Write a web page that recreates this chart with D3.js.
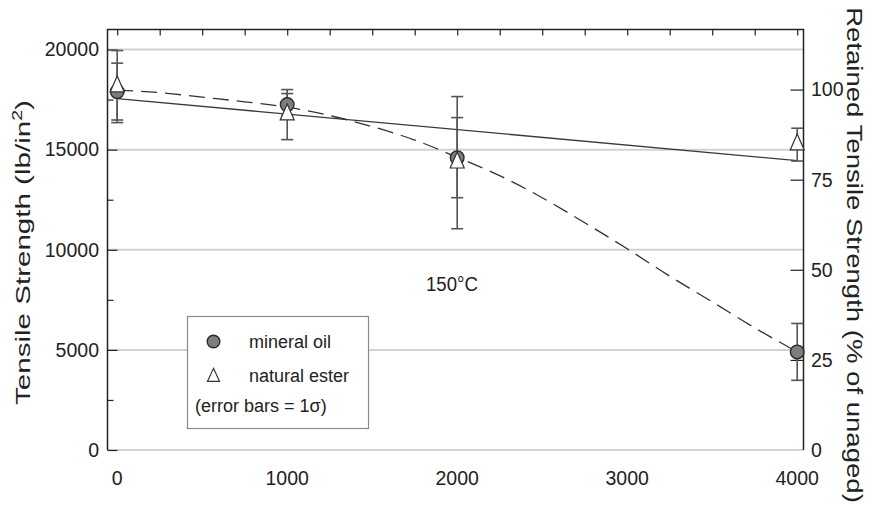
<!DOCTYPE html>
<html>
<head>
<meta charset="utf-8">
<script src="https://cdn.jsdelivr.net/npm/d3@7"></script>
<style>
  body { margin: 0; background: #fff; }
  svg { display: block; font-family: "Liberation Sans", Arial, sans-serif; }
</style>
</head>
<body>
<svg id="chart" width="869" height="510"></svg>
<script>
// Aging time (h) and tensile strength (lb/in^2) at 150 °C
const agingHours = [0, 1000, 2000, 4000];
const mineralOil = [17900, 17250, 14600, 4900];
const mineralOilSigma = [1420, 550, 2000, 1420];
const naturalEster = [18150, 16750, 14350, 15250];
const naturalEsterSigma = [1800, 1250, 3300, 820];

// Straight-line fit for natural ester
const esterFitHours = [0, 4000];
const esterFit = [17550, 14450];

// Trend curve for mineral oil
const mineralTrendHours = [0, 250, 500, 750, 1000, 1250, 1500, 1750, 2000, 2250, 2500, 2750, 3000, 3250, 3500, 3750, 4000];
const mineralTrend = [17970, 17850, 17620, 17390, 17120, 16700, 16150, 15480, 14620, 13700, 12600, 11350, 10050, 8680, 7400, 6100, 4900];

const xTickValues = [0, 1000, 2000, 3000, 4000];
const yTickValues = [0, 5000, 10000, 15000, 20000];
const retainedTickValues = [0, 25, 50, 75, 100];
const unagedStrength = 18000; // 100 % reference

const svg = d3.select("#chart");
const frame = { left: 107.5, right: 803.5, top: 29.5, bottom: 450 };

const x = d3.scaleLinear().domain([-57, 4037]).range([frame.left, frame.right]);
const y = d3.scaleLinear().domain([0, 21000]).range([frame.bottom, frame.top]);
const yRetained = d3.scaleLinear()
  .domain([0, 21000 / unagedStrength * 100])
  .range([frame.bottom, frame.top]);

const ink = "#222";

// horizontal gridlines (the 0 line doubles as the bottom edge)
svg.append("g").selectAll("line").data(yTickValues).join("line")
  .attr("x1", frame.left).attr("x2", frame.right)
  .attr("y1", d => y(d)).attr("y2", d => y(d))
  .attr("stroke", "#d2d2d2").attr("stroke-width", 2);

// left axis with inward ticks
const leftAxis = svg.append("g").attr("transform", `translate(${frame.left},0)`)
  .call(d3.axisRight(y).tickValues(d3.range(0, 21000, 2500)).tickSize(0).tickFormat(""));
leftAxis.select(".domain").remove();
leftAxis.selectAll(".tick line")
  .attr("x2", d => d % 5000 === 0 ? 10 : 6)
  .attr("stroke", ink).attr("stroke-width", 1.2);

svg.append("g").selectAll("text").data(yTickValues).join("text")
  .attr("x", 99).attr("y", d => y(d)).attr("dy", "0.35em")
  .attr("text-anchor", "end").attr("font-size", 19.5).attr("fill", ink)
  .text(d => d);

// top axis with inward ticks
const topAxis = svg.append("g").attr("transform", `translate(0,${frame.top})`)
  .call(d3.axisBottom(x).tickValues(d3.range(0, 4001, 250)).tickSize(6).tickFormat(""));
topAxis.select(".domain").remove();
topAxis.selectAll(".tick line").attr("stroke", ink).attr("stroke-width", 1.2);

// bottom tick labels
svg.append("g").selectAll("text").data(xTickValues).join("text")
  .attr("x", d => x(d)).attr("y", 485)
  .attr("text-anchor", "middle").attr("font-size", 19.5).attr("fill", ink)
  .text(d => d);

// right axis: retained tensile strength (%)
const rightAxis = svg.append("g").attr("transform", `translate(${frame.right},0)`)
  .call(d3.axisLeft(yRetained).tickValues(retainedTickValues.filter(d => d > 0)).tickSize(13).tickFormat(""));
rightAxis.select(".domain").remove();
rightAxis.selectAll(".tick line").attr("stroke", ink).attr("stroke-width", 1.2);

svg.append("g").selectAll("text").data(retainedTickValues).join("text")
  .attr("x", 811).attr("y", d => yRetained(d)).attr("dy", "0.35em")
  .attr("text-anchor", "start").attr("font-size", 19.5).attr("fill", ink)
  .text(d => d);

// frame: left, top, right edges
svg.append("path")
  .attr("d", `M${frame.left},${frame.bottom}V${frame.top}H${frame.right}V${frame.bottom}`)
  .attr("fill", "none").attr("stroke", ink).attr("stroke-width", 1.5);

// trend lines
const line = d3.line().x(d => x(d[0])).y(d => y(d[1]));
svg.append("path")
  .datum(d3.zip(esterFitHours, esterFit))
  .attr("d", line)
  .attr("fill", "none").attr("stroke", "#3a3a3a").attr("stroke-width", 1.3);

svg.append("path")
  .datum(d3.zip(mineralTrendHours, mineralTrend))
  .attr("d", line.curve(d3.curveMonotoneX))
  .attr("fill", "none").attr("stroke", "#333").attr("stroke-width", 1.3)
  .attr("stroke-dasharray", "16,8");

// error bars (±1σ)
function errorBars(values, sigmas) {
  const g = svg.append("g").attr("stroke", "#555").attr("stroke-width", 1.6);
  agingHours.forEach((h, i) => {
    const cx = x(h), lo = y(values[i] - sigmas[i]), hi = y(values[i] + sigmas[i]);
    g.append("line").attr("x1", cx).attr("x2", cx).attr("y1", lo).attr("y2", hi);
    g.append("line").attr("x1", cx - 6).attr("x2", cx + 6).attr("y1", lo).attr("y2", lo);
    g.append("line").attr("x1", cx - 6).attr("x2", cx + 6).attr("y1", hi).attr("y2", hi);
  });
}
errorBars(mineralOil, mineralOilSigma);
errorBars(naturalEster, naturalEsterSigma);

// markers
const triangle = (w, h) => `M0,${-2 * h / 3}L${w / 2},${h / 3}L${-w / 2},${h / 3}Z`;

svg.append("g").selectAll("circle").data(agingHours).join("circle")
  .attr("cx", d => x(d)).attr("cy", (d, i) => y(mineralOil[i])).attr("r", 6.8)
  .attr("fill", "#7d7d7d").attr("stroke", "#2a2a2a").attr("stroke-width", 1.4);

svg.append("g").selectAll("path").data(agingHours).join("path")
  .attr("transform", (d, i) => `translate(${x(d)},${y(naturalEster[i])})`)
  .attr("d", triangle(14, 16))
  .attr("fill", "#fff").attr("stroke", "#333").attr("stroke-width", 1.2);

// temperature annotation
const tempLabel = svg.append("text")
  .attr("font-size", 21).attr("fill", ink).text("150°C");
const tw = tempLabel.node().getComputedTextLength();
tempLabel.attr("transform", `translate(426,291) scale(${52 / tw},1)`);

// legend
const legend = svg.append("g");
legend.append("rect")
  .attr("x", 187.5).attr("y", 316.5).attr("width", 181).attr("height", 112)
  .attr("fill", "#fff").attr("stroke", "#8a8a8a").attr("stroke-width", 1.2);
legend.append("circle").attr("cx", 213.5).attr("cy", 341.5).attr("r", 6.3)
  .attr("fill", "#7d7d7d").attr("stroke", "#2a2a2a").attr("stroke-width", 1.4);
legend.append("path").attr("transform", "translate(213.5,377)").attr("d", triangle(12, 13))
  .attr("fill", "#fff").attr("stroke", "#333").attr("stroke-width", 1.2);
legend.append("text").attr("x", 249).attr("y", 347.5).attr("font-size", 18).attr("fill", ink)
  .text("mineral oil");
legend.append("text").attr("x", 249).attr("y", 382).attr("font-size", 18).attr("fill", ink)
  .text("natural ester");
const errNote = legend.append("text").attr("x", 195).attr("y", 412).attr("font-size", 18).attr("fill", ink);
errNote.append("tspan").text("(error bars = 1");
errNote.append("tspan").text("σ");
errNote.append("tspan").text(")");

// axis titles, stretched along their length
function axisTitle(build, cx, cy, angle, targetLength) {
  const t = svg.append("text").attr("font-size", build.size).attr("fill", ink)
    .attr("text-anchor", "middle");
  build.fill(t);
  const w = t.node().getBBox().width;
  t.attr("transform", `translate(${cx},${cy}) rotate(${angle}) scale(${targetLength / w},1)`);
}

axisTitle({
  size: 21,
  fill: t => {
    t.append("tspan").text("Tensile Strength (lb/in");
    t.append("tspan").attr("font-size", 14).attr("dy", -8).text("2");
    t.append("tspan").attr("dy", 8).text(")");
  }
}, 30, 252.5, -90, 305);

axisTitle({
  size: 22,
  fill: t => t.text("Retained Tensile Strength (% of unaged)")
}, 847, 255, 90, 496);
</script>
</body>
</html>
